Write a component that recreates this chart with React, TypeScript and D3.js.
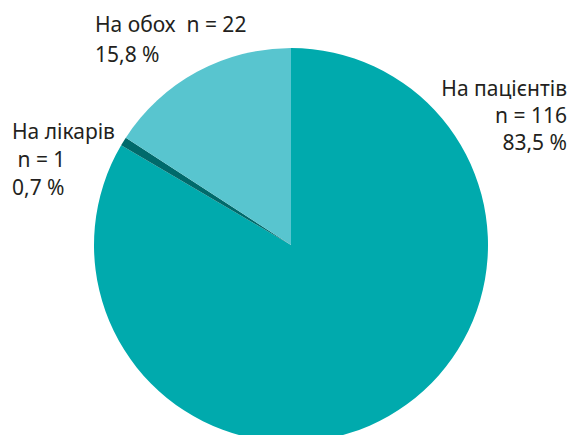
import React from "react";
import * as d3 from "d3";

const categories = ["На пацієнтів", "На лікарів", "На обох"];
const counts = [116, 1, 22];
const percents = ["83,5 %", "0,7 %", "15,8 %"];
const colors = ["#00aaad", "#006a6b", "#58c5cf"];

export default function App() {
  const width = 569;
  const height = 435;
  const cx = 291;
  const cy = 245;
  const r = 197;
  const pie = d3.pie<number>().sort(null).value((d) => d);
  const arcs = pie(counts);
  const arc = d3.arc<d3.PieArcDatum<number>>().innerRadius(0).outerRadius(r);
  const font = "'Noto Sans', sans-serif";
  const fs = 21;
  const fill = "#231f20";
  return (
    <svg
      width={width}
      height={height}
      style={{ position: "absolute", left: 0, top: 0 }}
      fontFamily={font}
      fontSize={fs}
    >
      <rect width={width} height={height} fill="#fff" />
      <g transform={`translate(${cx},${cy})`}>
        {arcs.map((a, i) => (
          <path key={i} d={arc(a) || ""} fill={colors[i]} />
        ))}
      </g>
      <g fill={fill}>
        <text x={567} y={96} textAnchor="end">{categories[0]}</text>
        <text x={567} y={123} textAnchor="end">{`n = ${counts[0]}`}</text>
        <text x={567} y={150} textAnchor="end">{percents[0]}</text>

        <text x={12} y={139}>{categories[1]}</text>
        <text x={12} y={167} xmlSpace="preserve">{` n = ${counts[1]}`}</text>
        <text x={12} y={195}>{percents[1]}</text>

        <text x={95} y={32} xmlSpace="preserve">{`${categories[2]}  n = ${counts[2]}`}</text>
        <text x={95} y={62}>{percents[2]}</text>
      </g>
    </svg>
  );
}
